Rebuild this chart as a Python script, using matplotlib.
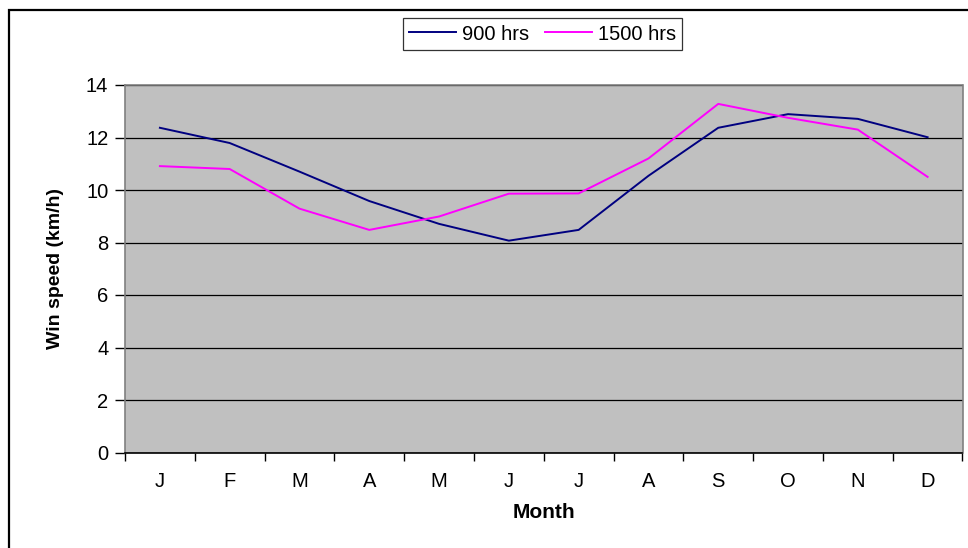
import matplotlib.pyplot as plt
from matplotlib.patches import Rectangle

plt.rcParams['font.family'] = ['Liberation Sans', 'DejaVu Sans']

months = ["J", "F", "M", "A", "M", "J", "J", "A", "S", "O", "N", "D"]
speed_900 = [12.37, 11.79, 10.70, 9.58, 8.71, 8.07, 8.48, 10.54, 12.37, 12.89, 12.71, 12.01]
speed_1500 = [10.91, 10.80, 9.29, 8.48, 8.99, 9.86, 9.87, 11.20, 13.28, 12.75, 12.30, 10.50]
y_ticks = [0, 2, 4, 6, 8, 10, 12, 14]

W, H = 968, 548
fig = plt.figure(figsize=(W / 100, H / 100), dpi=100)
fig.patch.set_facecolor("white")

ax = fig.add_axes([125 / W, 1 - 452.5 / H, 837.5 / W, 367.5 / H])
ax.set_facecolor("#C0C0C0")

x = list(range(len(months)))
ax.plot(x, speed_900, color="#000080", lw=1.4, label="900 hrs")
ax.plot(x, speed_1500, color="#FF00FF", lw=1.4, label="1500 hrs")

ax.set_xlim(-0.5, len(months) - 0.5)
ax.set_ylim(0, 14)

# gridlines at each y tick
ax.set_yticks(y_ticks)
ax.yaxis.grid(True, color="black", lw=0.9)
ax.set_axisbelow(True)

# month labels centred, tick marks between categories
ax.set_xticks(x)
ax.set_xticklabels(months)
ax.tick_params(axis="x", which="major", length=0, pad=14, labelsize=14.5)
ax.set_xticks([i - 0.5 for i in range(len(months) + 1)], minor=True)
ax.tick_params(axis="x", which="minor", length=6, width=1, color="black", direction="out")
ax.tick_params(axis="y", length=7, width=1, pad=5, labelsize=14.5, direction="out")

for side in ["top", "right", "left"]:
    ax.spines[side].set_color("#808080")
    ax.spines[side].set_linewidth(1.2)
ax.spines["bottom"].set_color("black")
ax.spines["bottom"].set_linewidth(1.2)

ax.set_xlabel("Month", fontsize=15, fontweight="bold", labelpad=9)
ax.set_ylabel("Win speed (km/h)", fontsize=14, fontweight="bold", labelpad=16)

leg = fig.legend(loc="center", bbox_to_anchor=(542.5 / W, 1 - 34 / H), ncol=2,
                 fontsize=14.5, frameon=True, fancybox=False, shadow=False,
                 handlelength=2.35, handletextpad=0.3, columnspacing=0.75,
                 borderpad=0.3, borderaxespad=0)
leg.get_frame().set_edgecolor("black")
leg.get_frame().set_linewidth(0.9)

# outer chart border (only left and top edges fall inside the image)
fig.add_artist(Rectangle((9 / W, -0.1), 1.2, 1.1 - 10 / H, transform=fig.transFigure,
                         fill=False, edgecolor="black", lw=1.6))

fig.savefig("out.png", dpi=100)
